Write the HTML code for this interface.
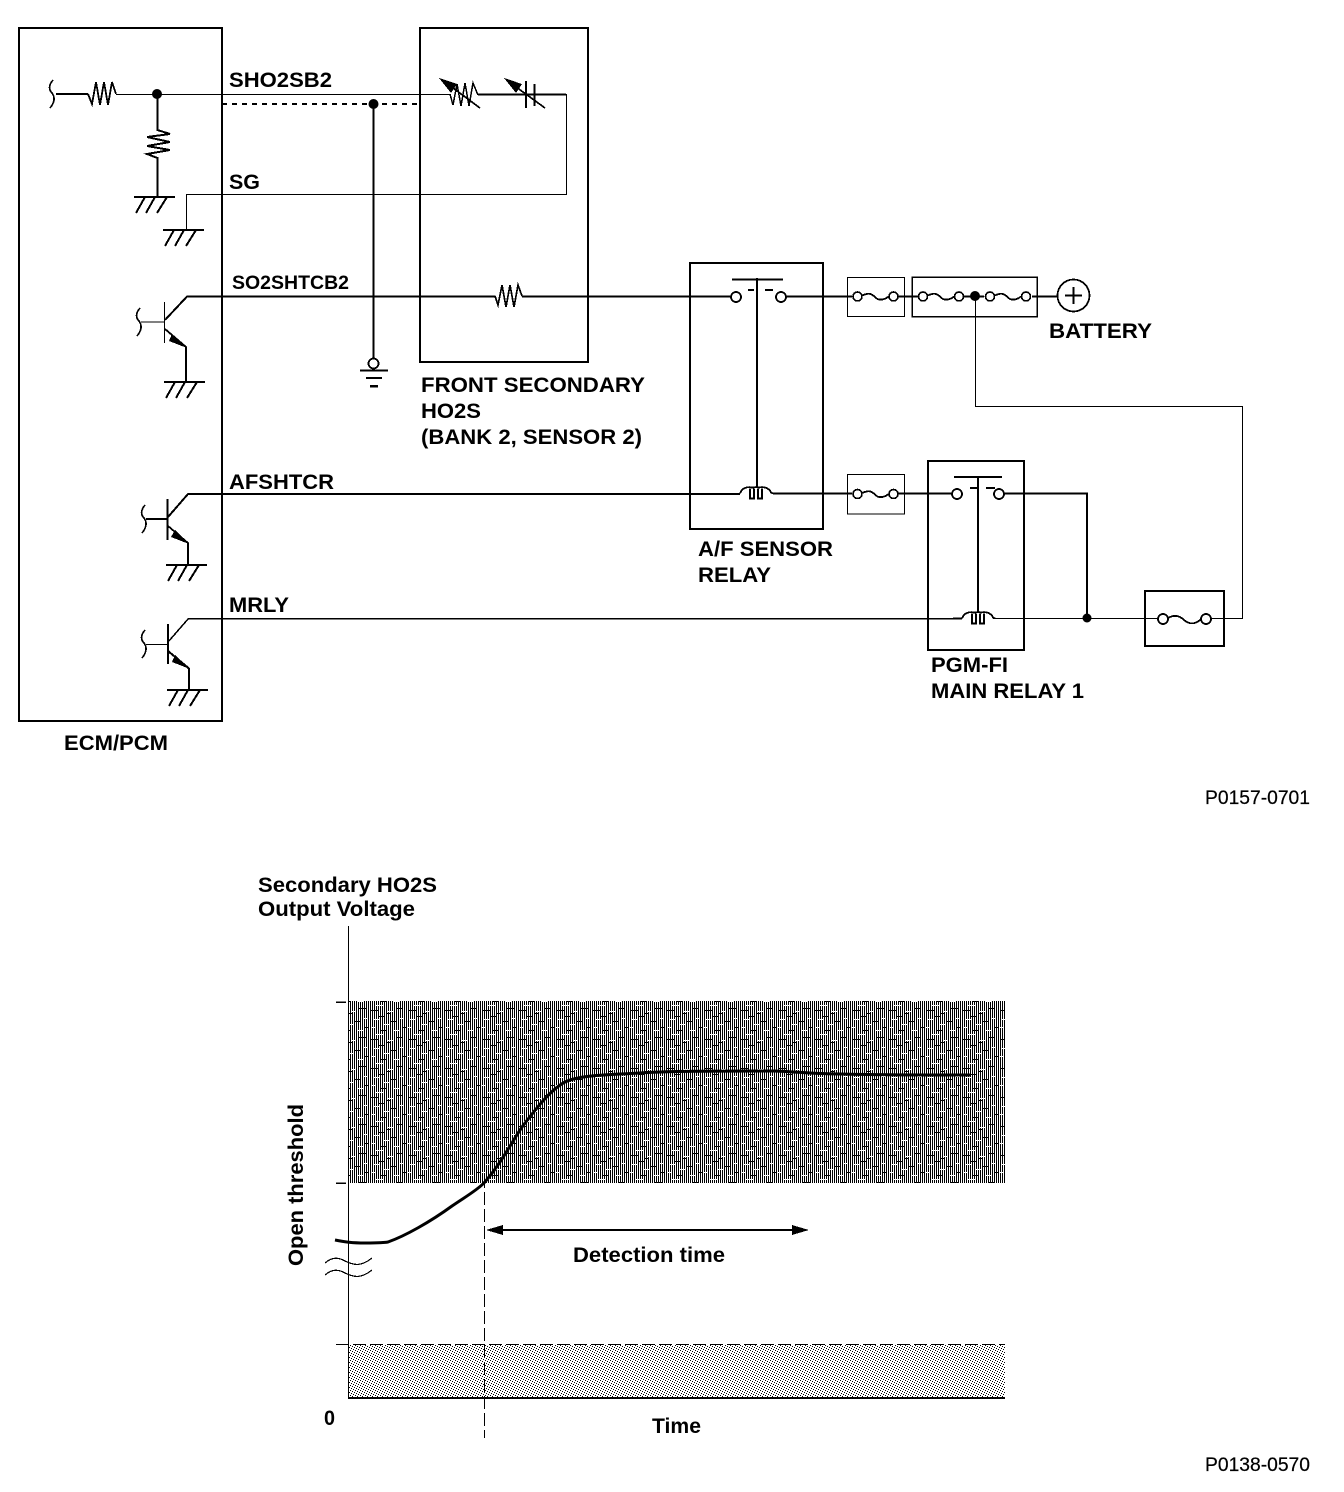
<!DOCTYPE html>
<html><head><meta charset="utf-8"><style>
html,body{margin:0;padding:0;background:#fff}
svg{display:block}
text{font-family:"Liberation Sans",sans-serif;font-weight:bold;font-size:21.5px;fill:#000}
.r{font-weight:normal;font-size:19.300px;stroke:#000;stroke-width:.2}
.s{fill:none;stroke:#000;stroke-linejoin:miter}
</style></head><body>
<svg width="1344" height="1492" viewBox="0 0 1344 1492" xmlns="http://www.w3.org/2000/svg" shape-rendering="crispEdges">
<defs>
<pattern id="dark" width="2" height="2" patternUnits="userSpaceOnUse"><rect width="2" height="2" fill="#fff"/><rect width="1" height="2" fill="#000"/></pattern>
<pattern id="noise" width="37" height="29" patternUnits="userSpaceOnUse"><path d="M3 4.500h6M14 9.500h6M24 15.500h6M6 19.500h8M18 25.500h5M1 12.500h4M30 3.500h4" stroke="#fff" stroke-width="1" fill="none"/><path d="M9 1.500h6M21 6.500h6M32 12.500h4M11 15.500h6M1 24.500h8M26 22.500h7M16 27.500h4" stroke="#000" stroke-width="1" fill="none"/></pattern>
<pattern id="light" width="5" height="5" patternUnits="userSpaceOnUse"><rect width="5" height="5" fill="#fff"/><rect x="0" y="0" width="1" height="1"/><rect x="2" y="1" width="1" height="1"/><rect x="4" y="2" width="1" height="1"/><rect x="1" y="3" width="1" height="1"/><rect x="3" y="4" width="1" height="1"/></pattern>
<g id="gnd"><path class="s" stroke-width="2" d="M0 0H41"/><path class="s" stroke-width="2" d="M11 0L2 16M21 0L12 16M33 0L23 16"/></g>
<g id="fuse"><circle cx="0" cy="0" r="4.500" fill="#fff" stroke="#000" stroke-width="1.600"/><circle cx="36" cy="0" r="4.500" fill="#fff" stroke="#000" stroke-width="1.600"/><path class="s" stroke-width="1.800" d="M5 -1C11 -4 14 -3 18 1C21 4 26 4 31 0"/></g>
<g id="coil"><path class="s" stroke-width="1.800" d="M0 0C2 -6 8 -7 12 -6C15 -6 17 -7 19 -6C23 -7 29 -6 31 -1L33 0M10 -5V5H14V-5M18 -5V5H22V-5"/></g>
<g id="curl"><path class="s" stroke-width="1.600" d="M3 -14C-2 -8 -1 -4 2 -1C5 3 5 8 0 14"/></g>
</defs>
<rect width="1344" height="1492" fill="#fff"/>

<!-- boxes -->
<rect class="s" stroke-width="2" x="19" y="28" width="203" height="693"/>
<rect class="s" stroke-width="2" x="420" y="28" width="168" height="334"/>
<rect class="s" stroke-width="2" x="690" y="263" width="133" height="266"/>
<rect class="s" stroke-width="1" x="847.500" y="277.500" width="57" height="39"/>
<rect class="s" stroke-width="1.500" x="912" y="277" width="125" height="39.500"/>
<rect class="s" stroke-width="1" x="847.500" y="474.500" width="57" height="39.500"/>
<rect class="s" stroke-width="2" x="928" y="461" width="96" height="189"/>
<rect class="s" stroke-width="2" x="1145" y="591" width="79" height="55"/>

<!-- SHO2SB2 / internal -->
<use href="#curl" x="50" y="94"/>
<path class="s" stroke-width="2" d="M56 94H88"/>
<path class="s" stroke-width="1.800" d="M88 94L92 104L96 82L100 105L104 82L108 105L112 82L116 94"/>
<path class="s" stroke-width="1" d="M116 94.500H450"/>
<circle cx="157" cy="94" r="5" shape-rendering="auto"/>
<path class="s" stroke-width="2" d="M157.500 94V130L170 134L147 137L170 142L147 146L170 150L147 154L157.500 158V197"/>
<use href="#gnd" x="134" y="197"/>
<path class="s" stroke-width="1.300" d="M186.500 230V194.500H566.500V94"/>
<use href="#gnd" x="163" y="230"/>
<path class="s" stroke-width="2" stroke-dasharray="5 5" d="M222 104H418"/>
<circle cx="373.500" cy="104" r="5" shape-rendering="auto"/>
<path class="s" stroke-width="2" d="M373.500 104V358"/>
<circle cx="373.500" cy="363.500" r="5" fill="#fff" stroke="#000" stroke-width="1.800"/>
<path class="s" stroke-width="2" d="M360 370.500H388M366 378H382"/>
<path class="s" stroke-width="2.500" d="M370 386H378"/>

<!-- variable resistor / cap -->
<path class="s" stroke-width="1.500" d="M450 94L453 105L457 84L461 106L465 83L469 106L473 83L478 95"/>
<path class="s" stroke-width="1.700" d="M445 82L480 108"/>
<path d="M439 78L457 84L451 93Z"/>
<path class="s" stroke-width="2" d="M478 94.500H566"/>
<path class="s" stroke-width="2" d="M526 81V108M534.500 84V106"/>
<path class="s" stroke-width="1.700" d="M512 84L545 108"/>
<path d="M504 78L522 84L516 93Z"/>

<!-- T1 -->
<use href="#curl" x="137" y="322"/>
<path class="s" stroke-width="1.400" d="M141 322H164"/>
<path class="s" stroke-width="1.400" d="M164.500 302V343"/>
<path class="s" stroke-width="2" d="M165 320L187 296.500H495"/>
<path class="s" stroke-width="1.800" d="M165 329L186 347V382"/>
<path d="M172 334L187 348L169 341Z"/>
<use href="#gnd" x="164" y="382"/>
<path class="s" stroke-width="1.700" d="M495 296L498 305L502 285L506 307L510 285L514 307L518 285L522 296"/>
<path class="s" stroke-width="2" d="M522 296.500H731"/>

<!-- relay 1 -->
<circle cx="736" cy="297" r="5" fill="#fff" stroke="#000" stroke-width="1.800"/>
<circle cx="781" cy="297" r="5" fill="#fff" stroke="#000" stroke-width="1.800"/>
<path class="s" stroke-width="2" d="M732 279.500H783M748 290H754M765 290H773M757 278V488"/>
<path class="s" stroke-width="2" d="M786 296.500H852M898 296.500H918M1032 296.500H1057"/>
<use href="#fuse" x="857.500" y="296.500"/>
<use href="#fuse" x="923" y="296.500"/>
<path class="s" stroke-width="1.800" d="M964 296.500H984"/>
<use href="#fuse" x="990" y="296.500"/>
<circle cx="975" cy="296" r="5" shape-rendering="auto"/>
<circle cx="1073.500" cy="295.500" r="16" fill="#fff" stroke="#000" stroke-width="1.800"/>
<path class="s" stroke-width="2.200" d="M1065 295.500H1082M1073.500 287V304"/>
<path class="s" stroke-width="1.300" d="M975.500 296V406.500H1242.500V618.500H1212"/>

<!-- T2 -->
<use href="#curl" x="142" y="519"/>
<path class="s" stroke-width="2" d="M146 519H167"/>
<path class="s" stroke-width="2" d="M167.500 499V540"/>
<path class="s" stroke-width="2" d="M168 517L188 494H740"/>
<path class="s" stroke-width="1.800" d="M168 526L188 543V564"/>
<path d="M175 530L189 544L171 537Z"/>
<use href="#gnd" x="166" y="565"/>
<use href="#coil" x="740" y="493.500"/>
<path class="s" stroke-width="2" d="M773 493.500H852M898 493.500H952"/>
<use href="#fuse" x="857.500" y="494"/>
<circle cx="957" cy="494" r="5" fill="#fff" stroke="#000" stroke-width="1.800"/>
<circle cx="999" cy="494" r="5" fill="#fff" stroke="#000" stroke-width="1.800"/>
<path class="s" stroke-width="2" d="M954 477H1002M970 488H977M986 488H995M978 478V612"/>
<path class="s" stroke-width="2" d="M1005 493.500H1087V618"/>

<!-- T3 -->
<use href="#curl" x="142" y="644"/>
<path class="s" stroke-width="1.200" d="M146 644.500H167"/>
<path class="s" stroke-width="2" d="M168 624V664"/>
<path class="s" stroke-width="1.500" d="M168 642L188.500 618.500H953"/>
<path class="s" stroke-width="2" d="M168 651L189 668.500V690"/>
<path d="M175 655L190 669L172 662Z"/>
<use href="#gnd" x="167" y="690"/>
<path class="s" stroke-width="2" d="M953 618.500H962"/>
<use href="#coil" x="962" y="618.500"/>
<path class="s" stroke-width="1" d="M993 618.500H1158"/>
<circle cx="1087" cy="618" r="4.500" shape-rendering="auto"/>
<circle cx="1206" cy="619" r="5" fill="#fff" stroke="#000" stroke-width="1.800"/>
<circle cx="1163" cy="619" r="5" fill="#fff" stroke="#000" stroke-width="1.800"/>
<path class="s" stroke-width="1.800" d="M1168 618C1175 614 1180 616 1184 620C1190 625 1196 624 1201 619"/>

<!-- labels -->
<text x="229" y="87" textLength="103" lengthAdjust="spacingAndGlyphs">SHO2SB2</text>
<text x="229" y="189" textLength="31" lengthAdjust="spacingAndGlyphs">SG</text>
<text x="232" y="289" textLength="117" lengthAdjust="spacingAndGlyphs" style="font-size:19.500px">SO2SHTCB2</text>
<text x="229" y="489" textLength="105" lengthAdjust="spacingAndGlyphs">AFSHTCR</text>
<text x="229" y="612" textLength="60" lengthAdjust="spacingAndGlyphs">MRLY</text>
<text x="421" y="392" textLength="224" lengthAdjust="spacingAndGlyphs">FRONT SECONDARY</text>
<text x="421" y="418" textLength="60" lengthAdjust="spacingAndGlyphs">HO2S</text>
<text x="421" y="444" textLength="221" lengthAdjust="spacingAndGlyphs">(BANK 2, SENSOR 2)</text>
<text x="698" y="556" textLength="135" lengthAdjust="spacingAndGlyphs">A/F SENSOR</text>
<text x="698" y="582" textLength="73" lengthAdjust="spacingAndGlyphs">RELAY</text>
<text x="931" y="672" textLength="77" lengthAdjust="spacingAndGlyphs">PGM-FI</text>
<text x="931" y="698" textLength="153" lengthAdjust="spacingAndGlyphs">MAIN RELAY 1</text>
<text x="1049" y="338" textLength="103" lengthAdjust="spacingAndGlyphs">BATTERY</text>
<text x="64" y="750" textLength="104" lengthAdjust="spacingAndGlyphs">ECM/PCM</text>
<text class="r" x="1205" y="804" textLength="105" lengthAdjust="spacingAndGlyphs">P0157-0701</text>

<!-- graph -->
<rect x="348" y="1001" width="657" height="182" fill="url(#dark)"/>
<rect x="348" y="1001" width="657" height="182" fill="url(#noise)"/>
<rect x="349" y="1345" width="656" height="52" fill="url(#light)"/>
<path class="s" stroke-width="1" d="M348.500 926V1398"/>
<path class="s" stroke-width="2" d="M348 1398H1005"/>
<path class="s" stroke-width="1.500" d="M336 1002H346M336 1183H346"/>
<path class="s" stroke-width="1" stroke-dasharray="13 4" d="M336 1344.500H1005"/>
<path class="s" stroke-width="1" stroke-dasharray="13 4" d="M484.500 1090V1438"/>
<path class="s" stroke-width="3" shape-rendering="auto" d="M335 1240C345 1242 352 1243 365 1243C375 1243 382 1243 388 1242C405 1236 430 1222 452 1206C465 1197 476 1191 484 1183C500 1165 510 1145 522 1127C535 1110 550 1090 565 1082C580 1075 605 1075 640 1073C670 1071 710 1071 775 1071C800 1072 815 1074 840 1074C880 1075 930 1075 970 1075"/>
<path class="s" stroke-width="2" d="M495 1230H800"/>
<path d="M486 1230L503 1225V1235Z"/>
<path d="M809 1230L792 1225V1235Z"/>
<path class="s" stroke-width="1.200" d="M325 1263C332 1257 338 1257 345 1261C355 1266 362 1266 372 1258M325 1275C332 1269 338 1269 345 1273C355 1278 362 1278 372 1270"/>
<text x="258" y="892" textLength="179" lengthAdjust="spacingAndGlyphs">Secondary HO2S</text>
<text x="258" y="916" textLength="157" lengthAdjust="spacingAndGlyphs">Output Voltage</text>
<text transform="translate(303,1266) rotate(-90)" textLength="162" lengthAdjust="spacingAndGlyphs">Open threshold</text>
<text x="573" y="1262" textLength="152" lengthAdjust="spacingAndGlyphs">Detection time</text>
<text x="324" y="1425" textLength="11" lengthAdjust="spacingAndGlyphs">0</text>
<text x="652" y="1433" textLength="49" lengthAdjust="spacingAndGlyphs">Time</text>
<text class="r" x="1205" y="1471" textLength="105" lengthAdjust="spacingAndGlyphs">P0138-0570</text>
</svg>
</body></html>
